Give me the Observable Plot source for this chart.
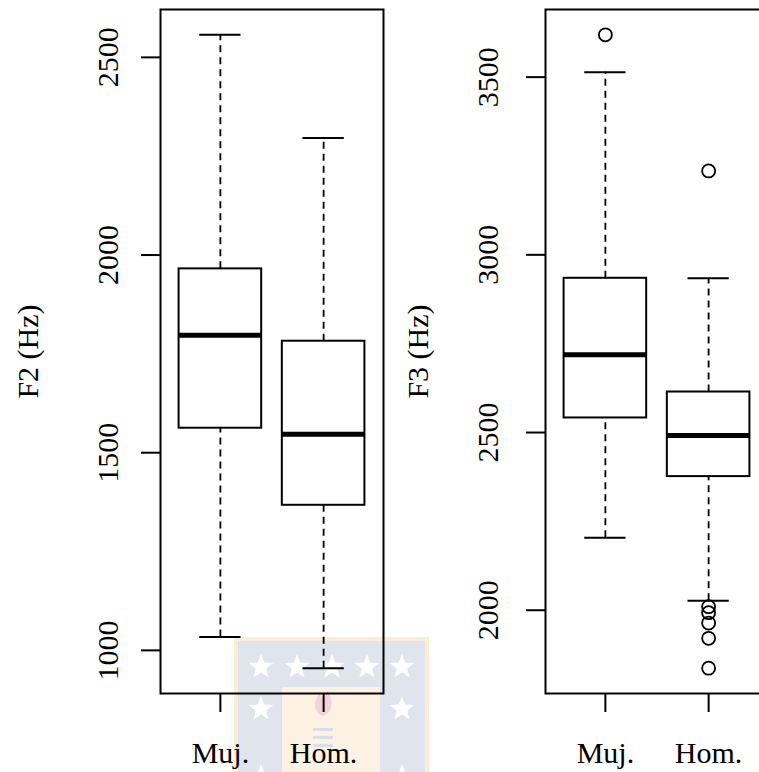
<!DOCTYPE html>
<html>
<head>
<meta charset="utf-8">
<script src="https://cdn.jsdelivr.net/npm/d3@7"></script>
<script src="https://cdn.jsdelivr.net/npm/@observablehq/plot@0.6"></script>
<style>
  html, body { margin: 0; padding: 0; background: #ffffff; }
  body { width: 759px; height: 772px; overflow: hidden; position: relative; }
  #seal { position: absolute; left: 0; top: 0; }
  #charts { position: absolute; left: 0; top: 0; display: flex; width: 800px; }
  #charts svg { flex: none; }
  #charts svg, #charts svg text {
    font-family: "Liberation Serif", "Tinos", "DejaVu Serif", "Noto Serif", "FreeSerif", "Times New Roman", Times, serif !important;
  }
</style>
</head>
<body>
<svg id="seal" width="759" height="772"></svg>
<div id="charts"></div>
<script>
// Groups shown on the x axis
const groups = ["Muj.", "Hom."];

// F2 (Hz) box statistics per group: whisker ends, quartiles, median
const f2Low    = [1034, 955];
const f2Q1     = [1562, 1367];
const f2Median = [1797, 1547];
const f2Q3     = [1965, 1782];
const f2High   = [2557, 2296];
const f2OutGroup = [];
const f2OutValue = [];
const f2Ticks  = [1000, 1500, 2000, 2500];

// F3 (Hz) box statistics per group, plus outliers
const f3Low    = [2204, 2027];
const f3Q1     = [2541, 2376];
const f3Median = [2719, 2492];
const f3Q3     = [2934, 2614];
const f3High   = [3514, 2934];
const f3OutGroup = ["Muj.", "Hom.", "Hom.", "Hom.", "Hom.", "Hom.", "Hom."];
const f3OutValue = [3619, 3236, 2010, 1993, 1964, 1921, 1837];
const f3Ticks  = [2000, 2500, 3000, 3500];

const serif = "Liberation Serif, Tinos, DejaVu Serif, Noto Serif, FreeSerif, Times New Roman, Times, serif";

function boxPanel({title, low, q1, median, q3, high, outGroup, outValue, ticks,
                   width, marginLeft, marginRight, tickDx, titleDx}) {
  const rows = groups.map((g, i) => ({
    g, pos: i + 1, low: low[i], q1: q1[i], median: median[i], q3: q3[i], high: high[i]
  }));
  const outliers = outGroup.map((g, i) => ({pos: groups.indexOf(g) + 1, value: outValue[i]}));

  // R-style limits: data range padded by 4% on each side
  const all = [...low, ...high, ...outValue];
  const lo = d3.min(all), hi = d3.max(all), pad = (hi - lo) * 0.04;
  const xPad = groups.length * 0.04;

  return Plot.plot({
    width, height: 772,
    marginTop: 9, marginBottom: 79, marginLeft, marginRight,
    style: {background: "transparent", maxWidth: "none", overflow: "visible", fontFamily: serif},
    x: {domain: [0.5 - xPad, groups.length + 0.5 + xPad]},
    y: {domain: [lo - pad, hi + pad]},
    marks: [
      Plot.frame({stroke: "black", strokeWidth: 2}),
      // dashed whiskers
      Plot.ruleX(rows, {x: "pos", y1: "q3", y2: "high", stroke: "black", strokeWidth: 1.8, strokeDasharray: "7,5"}),
      Plot.ruleX(rows, {x: "pos", y1: "low", y2: "q1", stroke: "black", strokeWidth: 1.8, strokeDasharray: "7,5"}),
      // whisker caps
      Plot.ruleY(rows, {y: "high", x1: d => d.pos - 0.2, x2: d => d.pos + 0.2, stroke: "black", strokeWidth: 2}),
      Plot.ruleY(rows, {y: "low", x1: d => d.pos - 0.2, x2: d => d.pos + 0.2, stroke: "black", strokeWidth: 2}),
      // boxes
      Plot.rect(rows, {x1: d => d.pos - 0.4, x2: d => d.pos + 0.4, y1: "q1", y2: "q3", fill: "none", stroke: "black", strokeWidth: 2}),
      // medians
      Plot.ruleY(rows, {y: "median", x1: d => d.pos - 0.4, x2: d => d.pos + 0.4, stroke: "black", strokeWidth: 5}),
      // outliers
      Plot.dot(outliers, {x: "pos", y: "value", r: 6.5, stroke: "black", strokeWidth: 1.8, fill: "none"}),
      // axes: ticks only, labels drawn below as rotated text
      Plot.axisY({ticks, tickSize: 19, tickFormat: () => "", label: null, strokeWidth: 2}),
      Plot.axisX({ticks: rows.map(d => d.pos), tickSize: 19, tickFormat: () => "", label: null, strokeWidth: 2}),
      Plot.text(ticks, {y: d => d, text: d => String(d), frameAnchor: "left", dx: tickDx, rotate: -90,
                        textAnchor: "middle", lineAnchor: "bottom", fontSize: 30, fontFamily: serif, fill: "black"}),
      Plot.text(rows, {x: "pos", text: "g", frameAnchor: "bottom", dy: 69, lineAnchor: "bottom",
                       textAnchor: "middle", fontSize: 30, fontFamily: serif, fill: "black"}),
      Plot.text([title], {text: d => d, frameAnchor: "left", dx: titleDx, rotate: -90,
                          textAnchor: "middle", lineAnchor: "bottom", fontSize: 30, fontFamily: serif, fill: "black"})
    ]
  });
}

const charts = document.getElementById("charts");
charts.append(boxPanel({
  title: "F2 (Hz)", low: f2Low, q1: f2Q1, median: f2Median, q3: f2Q3, high: f2High,
  outGroup: f2OutGroup, outValue: f2OutValue, ticks: f2Ticks,
  width: 400, marginLeft: 160, marginRight: 17, tickDx: -43, titleDx: -123
}));
charts.append(boxPanel({
  title: "F3 (Hz)", low: f3Low, q1: f3Q1, median: f3Median, q3: f3Q3, high: f3High,
  outGroup: f3OutGroup, outValue: f3OutValue, ticks: f3Ticks,
  width: 380, marginLeft: 145, marginRight: 12, tickDx: -48, titleDx: -118
}));

// Faint university seal printed behind the charts
(function drawSeal() {
  const svg = d3.select("#seal");
  const starPoints = (cx, cy, R) => {
    const pts = [];
    for (let k = 0; k < 10; k++) {
      const r = k % 2 === 0 ? R : R * 0.42;
      const a = -Math.PI / 2 + k * Math.PI / 5;
      pts.push([cx + r * Math.cos(a), cy + r * Math.sin(a)]);
    }
    return pts.map(p => p.join(",")).join(" ");
  };
  svg.append("rect").attr("x", 236).attr("y", 639).attr("width", 191).attr("height", 140)
    .attr("fill", "#dfe4ed").attr("stroke", "#fcedd7").attr("stroke-width", 4);
  svg.append("rect").attr("x", 282).attr("y", 687).attr("width", 98).attr("height", 90)
    .attr("fill", "#fcf1e2");
  const stars = [[261, 667], [297, 667], [332, 667], [367, 667], [402, 667],
                 [261, 709], [402, 709], [261, 777], [402, 777]];
  stars.forEach(([cx, cy]) => svg.append("polygon").attr("points", starPoints(cx, cy, 13)).attr("fill", "#ffffff"));
  svg.append("path").attr("d", "M323,716 C312,712 314,700 320,692 C321,700 326,698 327,690 C333,698 334,712 323,716 Z")
    .attr("fill", "#f4d3d8");
  [728, 736, 744].forEach(y => svg.append("rect").attr("x", 313).attr("y", y).attr("width", 20).attr("height", 3)
    .attr("fill", "#d8dfea"));
})();
</script>
</body>
</html>
